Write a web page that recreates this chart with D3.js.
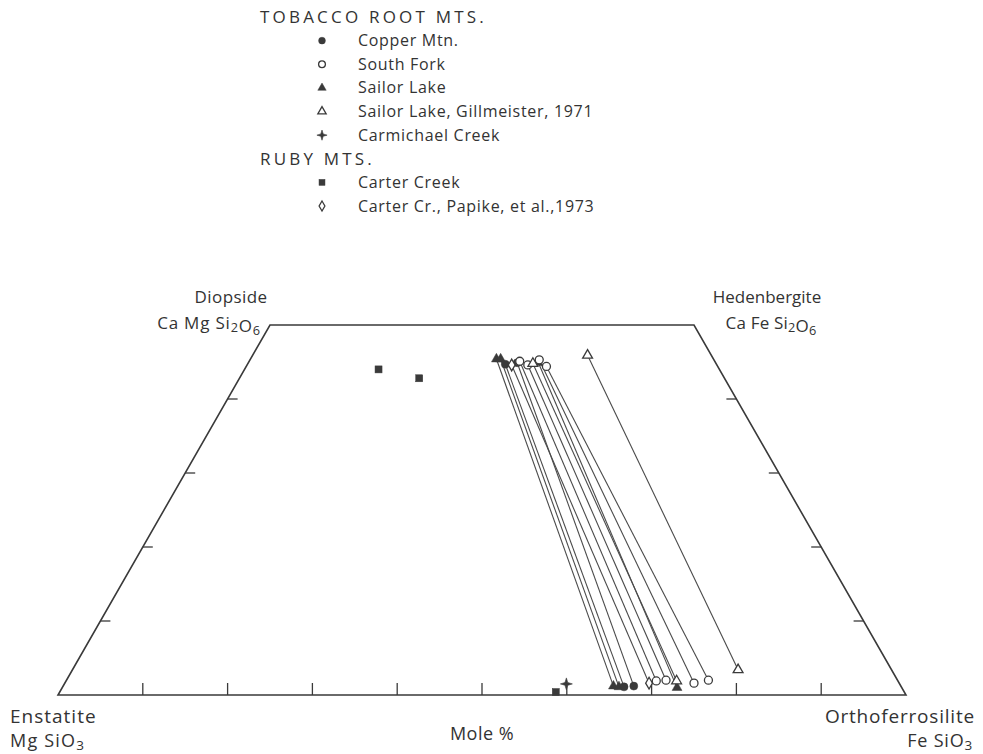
<!DOCTYPE html>
<html lang="en">
<head>
  <meta charset="UTF-8">
  <title>Pyroxene quadrilateral</title>
  <script src="https://d3js.org/d3.v7.min.js"></script>
  <style>
    body { margin: 0; background: #fff; }
    text { font-family: "Open Sans", sans-serif; fill: #333; }
  </style>
</head>
<body>
  <div id="chart"></div>

  <script>
    // legend entries (group header or sample type)
    const legendRows = [
      { label: "TOBACCO ROOT MTS.", type: null },
      { label: "Copper Mtn.", type: "copper" },
      { label: "South Fork", type: "southfork" },
      { label: "Sailor Lake", type: "sailor" },
      { label: "Sailor Lake, Gillmeister, 1971", type: "gillmeister" },
      { label: "Carmichael Creek", type: "carmichael" },
      { label: "RUBY MTS.", type: null },
      { label: "Carter Creek", type: "carter" },
      { label: "Carter Cr., Papike, et al.,1973", type: "papike" }
    ];

    // coexisting pyroxene pairs: [Wo, Fs] of augite and orthopyroxene (mole %)
    const pairTypes = ["sailor", "sailor", "copper", "copper", "papike", "southfork",
                       "southfork", "sailor", "gillmeister", "southfork", "southfork", "gillmeister"];
    const augite = [[45.4, 29.0], [45.4, 29.5], [44.7, 30.4], [44.9, 31.7], [44.6, 31.2], [45.1, 31.9],
                    [44.6, 33.1], [44.9, 34.2], [44.8, 33.6], [45.3, 34.1], [44.4, 35.4], [45.9, 39.5]];
    const opx = [[1.2, 64.9], [1.1, 65.6], [1.1, 66.2], [1.2, 67.3], [1.6, 68.9], [1.9, 69.6],
                 [2.0, 70.7], [1.0, 72.5], [1.9, 72.0], [1.6, 74.2], [2.0, 75.7], [3.4, 78.5]];

    // single analyses without tie lines
    const singleTypes = ["carter", "carter", "carter", "carmichael"];
    const singles = [[44.0, 15.8], [42.8, 21.2], [0.4, 58.5], [1.5, 59.2]];

    const fsTicks = [10, 20, 30, 40, 50, 60, 70, 80, 90];
    const woTicks = [10, 20, 30, 40];

    const W = 983, H = 754;
    const svg = d3.select("#chart").append("svg")
      .attr("width", W).attr("height", H);

    // horizontal position in the quadrilateral is Fs + Wo/2
    const x = d3.scaleLinear().domain([0, 100]).range([58, 906]);
    const y = d3.scaleLinear().domain([0, 50]).range([695, 325]);
    const px = (wo, fs) => x(fs + wo / 2);
    const py = (wo) => y(wo);

    const ink = "#3a3a3a";

    // outline
    const corners = [[0, 0], [0, 100], [50, 50], [50, 0]];
    svg.append("path")
      .attr("d", d3.line()(corners.map(c => [px(c[0], c[1]), py(c[0])])) + "Z")
      .attr("fill", "none").attr("stroke", ink).attr("stroke-width", 1.6);

    // ticks on the base
    svg.selectAll(".fstick").data(fsTicks).enter().append("line")
      .attr("x1", d => px(0, d)).attr("x2", d => px(0, d))
      .attr("y1", py(0)).attr("y2", py(0) - 12)
      .attr("stroke", ink).attr("stroke-width", 1.3);

    // ticks on the sides, pointing inward
    svg.selectAll(".wotickL").data(woTicks).enter().append("line")
      .attr("x1", d => px(d, 0)).attr("x2", d => px(d, 0) + 10)
      .attr("y1", d => py(d)).attr("y2", d => py(d))
      .attr("stroke", ink).attr("stroke-width", 1.3);
    svg.selectAll(".wotickR").data(woTicks).enter().append("line")
      .attr("x1", d => px(d, 100 - d)).attr("x2", d => px(d, 100 - d) - 10)
      .attr("y1", d => py(d)).attr("y2", d => py(d))
      .attr("stroke", ink).attr("stroke-width", 1.3);

    // tie lines
    svg.selectAll(".tie").data(augite).enter().append("line")
      .attr("x1", d => px(d[0], d[1])).attr("y1", d => py(d[0]))
      .attr("x2", (d, i) => px(opx[i][0], opx[i][1])).attr("y2", (d, i) => py(opx[i][0]))
      .attr("stroke", "#4a4a4a").attr("stroke-width", 1.1);

    // symbol drawing
    function drawSymbol(g, type, cx, cy, scale) {
      const s = scale || 1;
      const open = { fill: "#fff", stroke: ink, "stroke-width": 1.3 };
      const solid = { fill: ink, stroke: ink, "stroke-width": 0.5 };
      let el;
      if (type === "copper") {
        el = g.append("circle").attr("r", 4 * s);
        Object.entries(solid).forEach(([k, v]) => el.attr(k, v));
      } else if (type === "southfork") {
        el = g.append("circle").attr("r", 4 * s);
        Object.entries(open).forEach(([k, v]) => el.attr(k, v));
      } else if (type === "sailor" || type === "gillmeister") {
        el = g.append("path").attr("d", d3.symbol(d3.symbolTriangle, 42 * s * s)());
        Object.entries(type === "sailor" ? solid : open).forEach(([k, v]) => el.attr(k, v));
      } else if (type === "carter") {
        el = g.append("rect").attr("x", -3.5 * s).attr("y", -3.5 * s)
          .attr("width", 7 * s).attr("height", 7 * s);
        Object.entries(solid).forEach(([k, v]) => el.attr(k, v));
      } else if (type === "papike") {
        el = g.append("path").attr("d", d3.symbol(d3.symbolDiamond, 40 * s * s)());
        Object.entries(open).forEach(([k, v]) => el.attr(k, v));
      } else if (type === "carmichael") {
        const a = 6 * s, b = 1.4 * s;
        el = g.append("path")
          .attr("d", `M0,${-a}L${b},${-b}L${a},0L${b},${b}L0,${a}L${-b},${b}L${-a},0L${-b},${-b}Z`)
          .attr("fill", ink).attr("stroke", ink).attr("stroke-width", 0.6);
      }
      el.attr("transform", `translate(${cx},${cy})`);
    }

    const marks = svg.append("g");
    augite.forEach((d, i) => drawSymbol(marks, pairTypes[i], px(d[0], d[1]), py(d[0])));
    opx.forEach((d, i) => drawSymbol(marks, pairTypes[i], px(d[0], d[1]), py(d[0])));
    singles.forEach((d, i) => drawSymbol(marks, singleTypes[i], px(d[0], d[1]), py(d[0])));

    // legend
    const legend = svg.append("g");
    const rowY = d3.scaleLinear().domain([0, legendRows.length - 1]).range([17, 206]);
    legendRows.forEach((r, i) => {
      const cy = rowY(i);
      if (r.type === null) {
        legend.append("text").attr("x", 260).attr("y", cy).attr("dy", "0.35em")
          .attr("font-size", 17).attr("letter-spacing", 3.2).text(r.label);
      } else {
        drawSymbol(legend, r.type, 322, cy, 0.85);
        legend.append("text").attr("x", 358).attr("y", cy).attr("dy", "0.35em")
          .attr("font-size", 16).attr("letter-spacing", 0.7).text(r.label);
      }
    });

    // corner labels: name, then formula with subscripts
    function formula(xPos, yPos, anchor, size, spacing, parts) {
      const t = svg.append("text").attr("x", xPos).attr("y", yPos)
        .attr("text-anchor", anchor).attr("font-size", size).attr("letter-spacing", spacing);
      parts.forEach(p => {
        if (p.sub) {
          t.append("tspan").attr("dy", 3).attr("font-size", size * 0.75).text(p.sub);
          t.append("tspan").attr("dy", -3).text("");
        } else {
          t.append("tspan").text(p.t);
        }
      });
    }
    const label = (xPos, yPos, anchor, size, spacing, s) => svg.append("text")
      .attr("x", xPos).attr("y", yPos).attr("text-anchor", anchor)
      .attr("font-size", size).attr("letter-spacing", spacing).text(s);

    label(231, 303, "middle", 17, 0.4, "Diopside");
    formula(209, 329, "middle", 17, 0.8, [{ t: "Ca Mg Si" }, { sub: "2" }, { t: "O" }, { sub: "6" }]);
    label(767, 303, "middle", 17, 0, "Hedenbergite");
    formula(771, 329, "middle", 17, 0.2, [{ t: "Ca Fe Si" }, { sub: "2" }, { t: "O" }, { sub: "6" }]);
    label(10, 723, "start", 19, 1, "Enstatite");
    formula(10, 747, "start", 18, 1.2, [{ t: "Mg SiO" }, { sub: "3" }]);
    label(482, 740, "middle", 18, 0.5, "Mole %");
    label(975, 723, "end", 19, 0.8, "Orthoferrosilite");
    formula(973, 747, "end", 18, 0.8, [{ t: "Fe SiO" }, { sub: "3" }]);
  </script>
</body>
</html>
